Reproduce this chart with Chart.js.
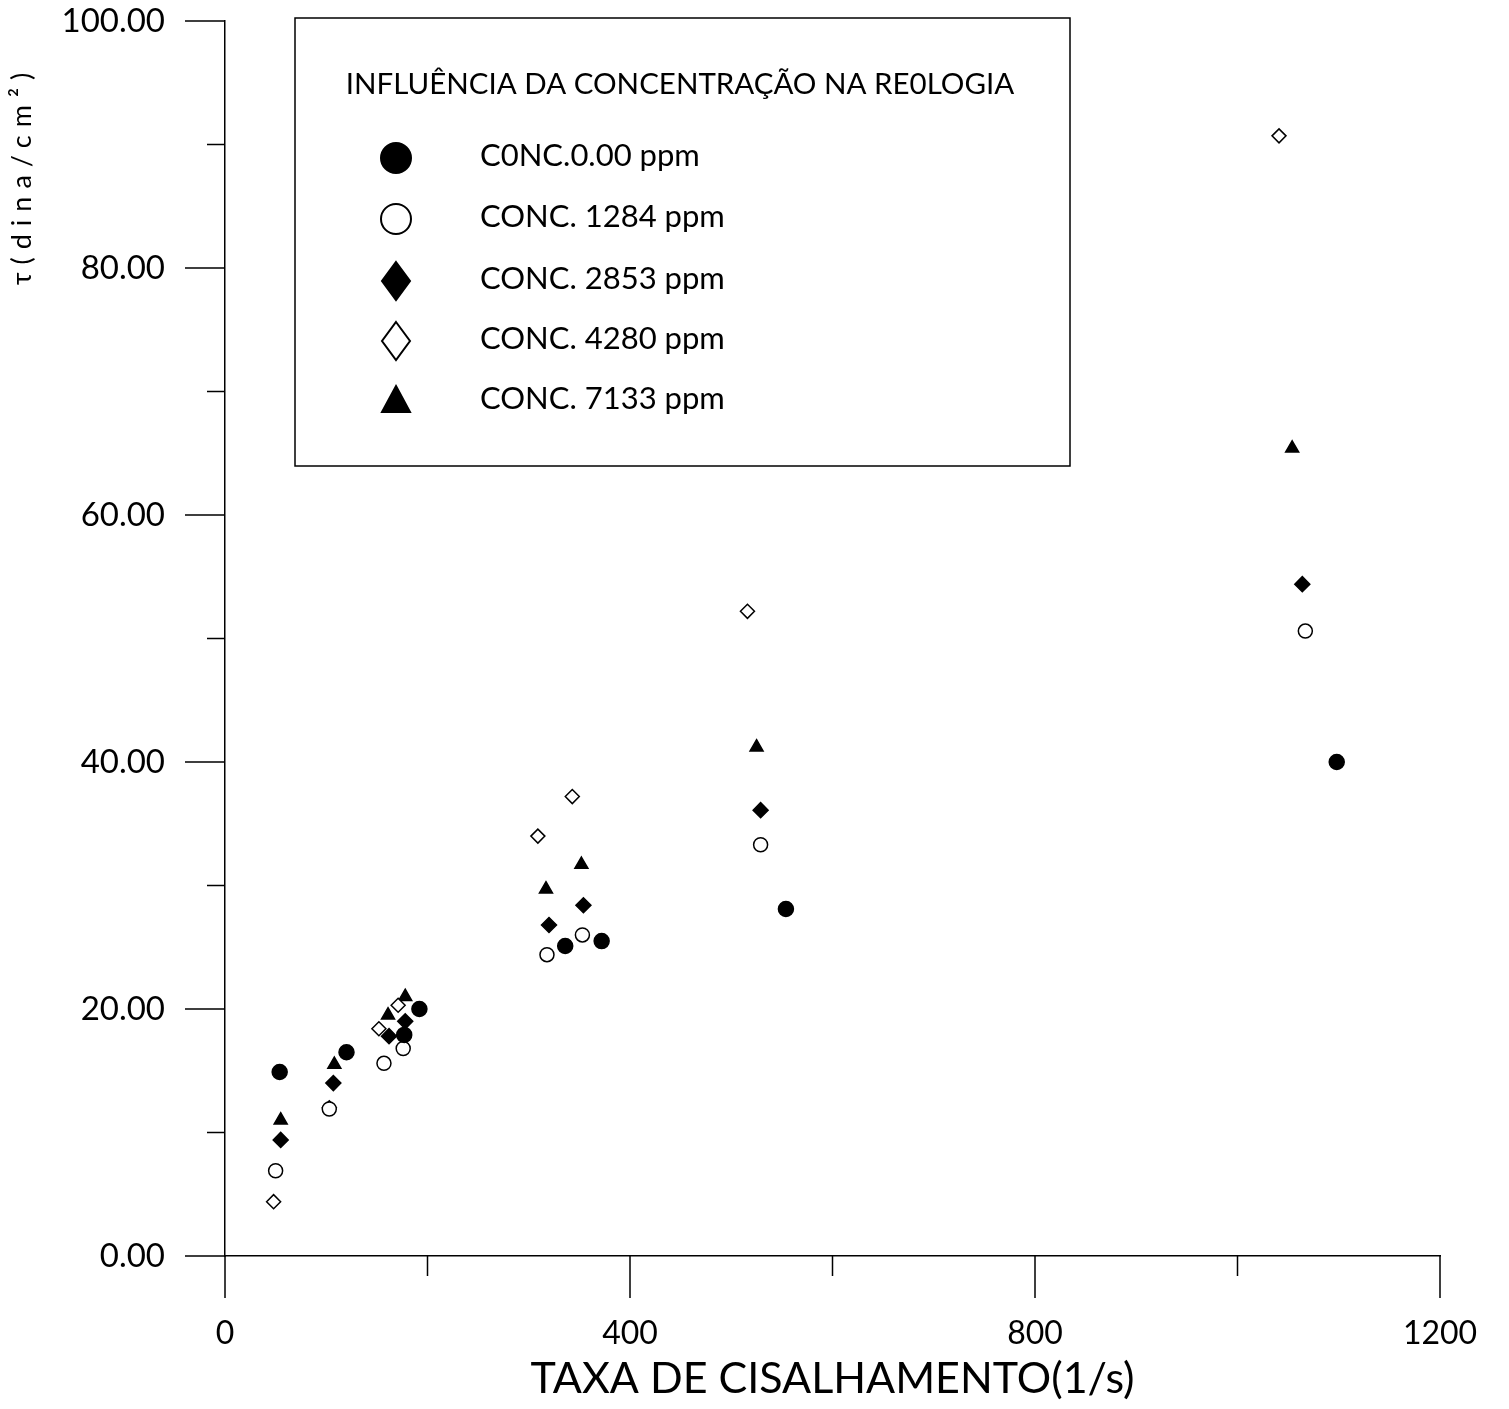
<!DOCTYPE html>
<html lang="pt">
<head>
<meta charset="utf-8">
<title>Influência da concentração na reologia</title>
<script src="https://cdn.jsdelivr.net/npm/chart.js@4.4.1/dist/chart.umd.min.js"></script>
<style>
  html, body { margin: 0; padding: 0; background: #ffffff; }
  #wrap { width: 1509px; height: 1409px; }
</style>
</head>
<body>
<div id="wrap"><canvas id="grafico" width="1509" height="1409"></canvas></div>
<script>
// Taxa de cisalhamento (1/s) e tensão de cisalhamento (dina/cm²) por concentração
const taxaC0 = [54, 120, 177, 192, 336, 372, 554, 1098];
const tensaoC0 = [14.9, 16.5, 17.9, 20.0, 25.1, 25.5, 28.1, 40.0];

const taxaC1284 = [50, 103, 157, 176, 318, 353, 529, 1067];
const tensaoC1284 = [6.9, 11.9, 15.6, 16.8, 24.4, 26.0, 33.3, 50.6];

const taxaC2853 = [55, 107, 162, 178, 320, 354, 529, 1064];
const tensaoC2853 = [9.4, 14.0, 17.8, 19.0, 26.8, 28.4, 36.1, 54.4];

const taxaC4280 = [48, 103, 152, 171, 309, 343, 516, 1041];
const tensaoC4280 = [4.4, 12.0, 18.4, 20.3, 34.0, 37.2, 52.2, 90.7];

const taxaC7133 = [55, 108, 161, 178, 317, 352, 525, 1054];
const tensaoC7133 = [11.0, 15.5, 19.5, 21.0, 29.7, 31.7, 41.2, 65.4];

const rotulosSeries = [
  "C0NC.0.00 ppm",
  "CONC. 1284 ppm",
  "CONC. 2853 ppm",
  "CONC. 4280 ppm",
  "CONC. 7133 ppm",
];
const tituloLegenda = "INFLUÊNCIA DA CONCENTRAÇÃO NA RE0LOGIA";
const tituloX = "TAXA DE CISALHAMENTO(1/s)";
const tituloY = "τ(dina/cm²)";

const FONTE = "Lato, 'DejaVu Sans', sans-serif";

function pares(xs, ys) {
  return xs.map((v, i) => ({ x: v, y: ys[i] }));
}

// estilos dos marcadores: preenchido / vazado
const estilos = [
  { pointStyle: "circle", fill: "#000", r: 7.5 },
  { pointStyle: "circle", fill: "#fff", r: 7 },
  { pointStyle: "rectRot", fill: "#000", r: 7.5 },
  { pointStyle: "rectRot", fill: "#fff", r: 7 },
  { pointStyle: "triangle", fill: "#000", r: 7.5 },
];

const dadosSeries = [
  pares(taxaC0, tensaoC0),
  pares(taxaC1284, tensaoC1284),
  pares(taxaC2853, tensaoC2853),
  pares(taxaC4280, tensaoC4280),
  pares(taxaC7133, tensaoC7133),
];

// Marcas dos eixos (maiores nos valores rotulados), título vertical e quadro da legenda
const extrasGrafico = {
  id: "extrasGrafico",
  afterDraw(chart) {
    const { ctx, chartArea } = chart;
    const x = chart.scales.x;
    const y = chart.scales.y;
    ctx.save();
    ctx.strokeStyle = "#000";
    ctx.lineWidth = 1.5;
    ctx.beginPath();
    x.ticks.forEach((t) => {
      const px = x.getPixelForValue(t.value);
      const len = t.value % 400 === 0 ? 42 : 20;
      ctx.moveTo(px, chartArea.bottom);
      ctx.lineTo(px, chartArea.bottom + len);
    });
    y.ticks.forEach((t) => {
      const py = y.getPixelForValue(t.value);
      const len = t.value % 20 === 0 ? 40 : 18;
      ctx.moveTo(chartArea.left, py);
      ctx.lineTo(chartArea.left - len, py);
    });
    ctx.stroke();

    // título do eixo y
    ctx.save();
    ctx.translate(22, 175);
    ctx.rotate(-Math.PI / 2);
    ctx.fillStyle = "#000";
    ctx.font = "27px " + FONTE;
    ctx.letterSpacing = "8px";
    ctx.textAlign = "center";
    ctx.textBaseline = "middle";
    ctx.fillText(tituloY, 0, 0);
    ctx.restore();

    // quadro da legenda
    const caixa = { left: 295, top: 18, right: 1070, bottom: 466 };
    ctx.fillStyle = "#fff";
    ctx.fillRect(caixa.left, caixa.top, caixa.right - caixa.left, caixa.bottom - caixa.top);
    ctx.lineWidth = 1.5;
    ctx.strokeRect(caixa.left, caixa.top, caixa.right - caixa.left, caixa.bottom - caixa.top);

    ctx.fillStyle = "#000";
    ctx.font = "29.5px " + FONTE;
    ctx.textAlign = "center";
    ctx.textBaseline = "middle";
    ctx.fillText(tituloLegenda, 680, 84);

    const linhas = [158, 219, 281, 341, 401];
    ctx.textAlign = "left";
    ctx.font = "31px " + FONTE;
    linhas.forEach((ly, i) => {
      desenhaMarcador(ctx, i, 396, ly);
      ctx.fillStyle = "#000";
      ctx.fillText(rotulosSeries[i], 480, ly - 2);
    });
    ctx.restore();
  },
};

function desenhaMarcador(ctx, i, cx, cy) {
  ctx.save();
  ctx.strokeStyle = "#000";
  ctx.lineWidth = 2;
  ctx.beginPath();
  if (i === 0 || i === 1) {
    ctx.arc(cx, cy, 15, 0, Math.PI * 2);
  } else if (i === 2 || i === 3) {
    ctx.moveTo(cx, cy - 19);
    ctx.lineTo(cx + 14, cy);
    ctx.lineTo(cx, cy + 19);
    ctx.lineTo(cx - 14, cy);
    ctx.closePath();
  } else {
    ctx.moveTo(cx, cy - 15);
    ctx.lineTo(cx + 14, cy + 11);
    ctx.lineTo(cx - 14, cy + 11);
    ctx.closePath();
  }
  ctx.fillStyle = estilos[i].fill;
  ctx.fill();
  ctx.stroke();
  ctx.restore();
}

const ctx = document.getElementById("grafico").getContext("2d");

new Chart(ctx, {
  type: "scatter",
  data: {
    datasets: dadosSeries.map((d, i) => ({
      label: rotulosSeries[i],
      data: d,
      pointStyle: estilos[i].pointStyle,
      pointRadius: estilos[i].r,
      pointHoverRadius: estilos[i].r,
      pointBackgroundColor: estilos[i].fill,
      pointBorderColor: "#000",
      pointBorderWidth: 1.5,
      showLine: false,
    })),
  },
  options: {
    responsive: false,
    animation: false,
    events: [],
    layout: {
      padding: { top: 21, right: 69, left: 0, bottom: 0 },
    },
    plugins: {
      legend: { display: false },
      tooltip: { enabled: false },
    },
    scales: {
      x: {
        type: "linear",
        min: 0,
        max: 1200,
        afterFit: (s) => {
          s.height = 153;
        },
        ticks: {
          stepSize: 200,
          color: "#000",
          padding: 18,
          maxRotation: 0,
          font: { family: FONTE, size: 32 },
          callback: (v) => (v % 400 === 0 ? String(v) : ""),
        },
        grid: { display: false, drawTicks: true, tickLength: 40 },
        border: { display: true, color: "#000", width: 1.5 },
        title: {
          display: true,
          text: tituloX,
          color: "#000",
          font: { family: FONTE, size: 43 },
          padding: { top: 0, bottom: 4 },
        },
      },
      y: {
        type: "linear",
        min: 0,
        max: 100,
        afterFit: (s) => {
          s.width = 225;
          s.paddingTop = 0;
          s.paddingBottom = 0;
        },
        ticks: {
          stepSize: 10,
          color: "#000",
          padding: 20,
          font: { family: FONTE, size: 33 },
          callback: (v) => (v % 20 === 0 ? v.toFixed(2) : ""),
        },
        grid: { display: false, drawTicks: true, tickLength: 40 },
        border: { display: true, color: "#000", width: 1.5 },
      },
    },
  },
  plugins: [extrasGrafico],
});
</script>
</body>
</html>
